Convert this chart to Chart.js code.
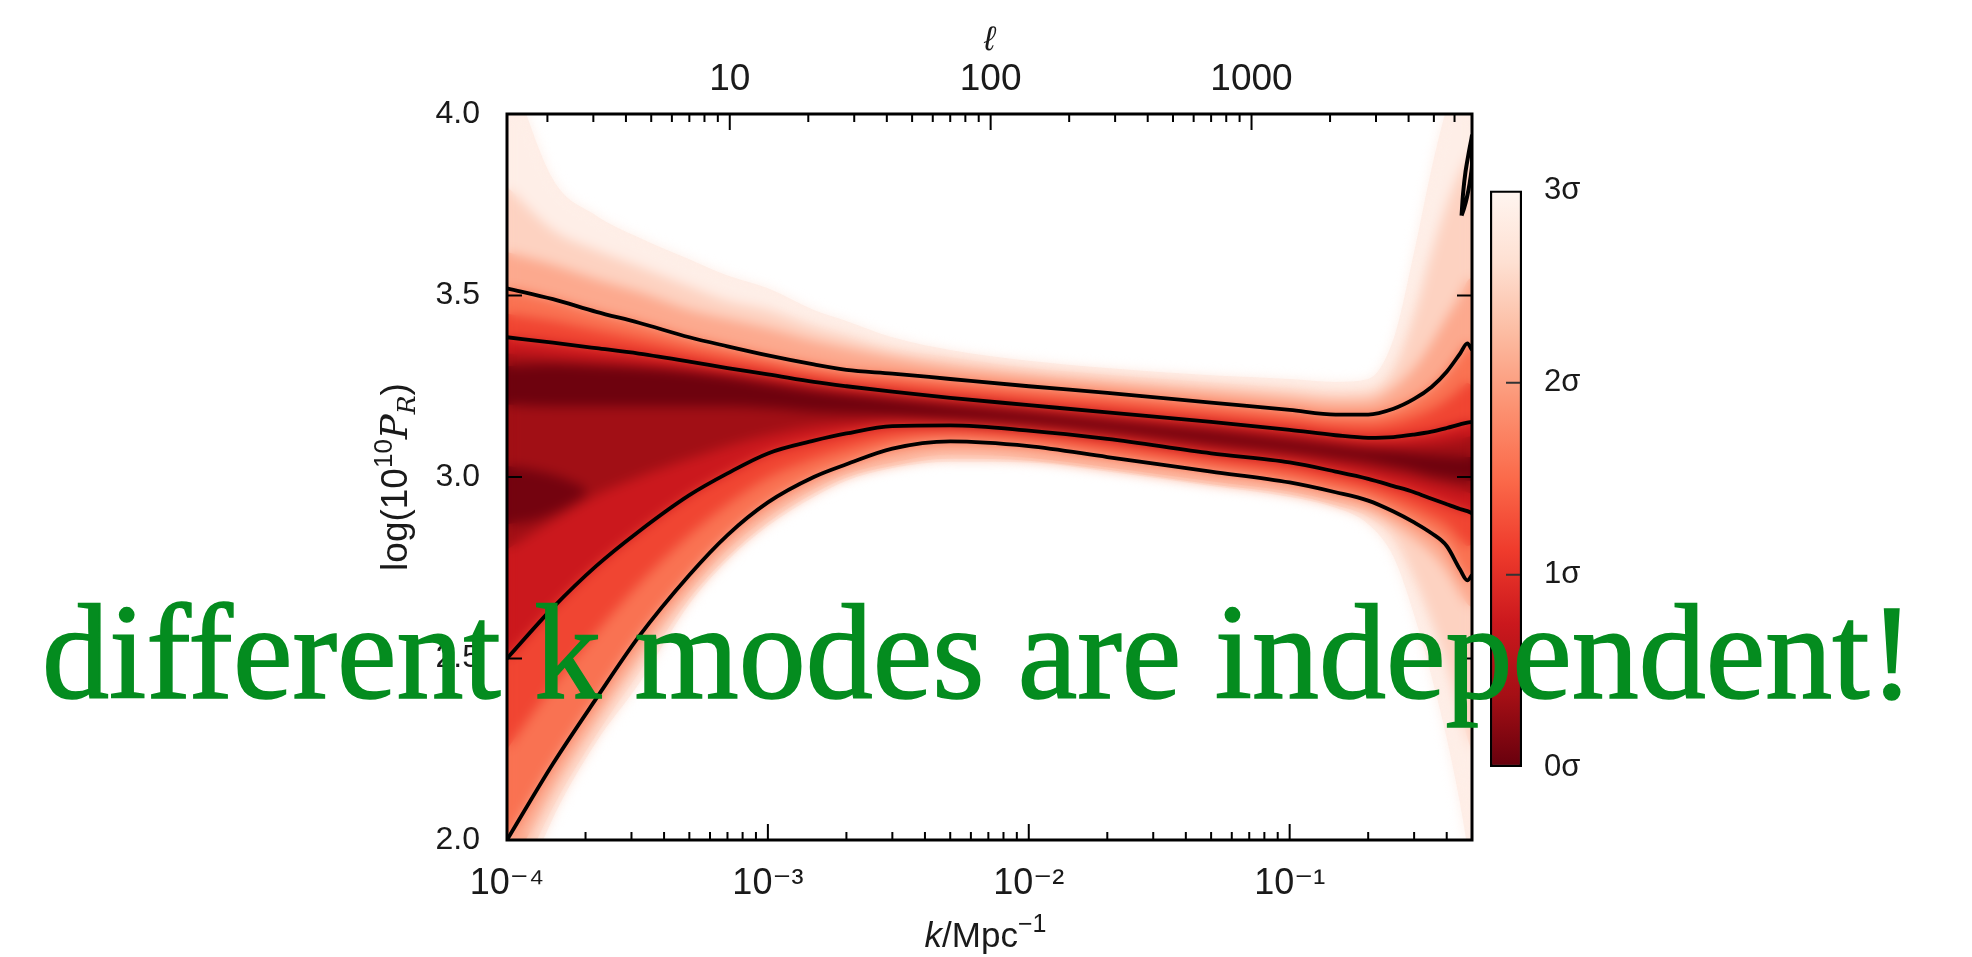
<!DOCTYPE html>
<html>
<head>
<meta charset="utf-8">
<script src="https://cdn.jsdelivr.net/npm/chart.js@4.4.1/dist/chart.umd.min.js"></script>
<style>
  html, body { margin: 0; padding: 0; background: #fff; }
  #wrap { position: relative; width: 1972px; height: 957px; overflow: hidden; }
  #grafico { position: absolute; left: 0; top: 0; }
  #barraCor { position: absolute; left: 1460px; top: 150px; }
  #frase { position: absolute; left: 42px; top: 580px; font-size: 136px; font-family: "Liberation Serif", "DejaVu Serif", serif;
           color: #048c1f; -webkit-text-stroke: 1.6px #048c1f; white-space: nowrap; line-height: 1; transform-origin: 0 0; }
</style>
</head>
<body>
<div id="wrap">
  <canvas id="grafico" width="1972" height="957"></canvas>
  <canvas id="barraCor" width="200" height="660"></canvas>
  <div id="frase">different k modes are independent!</div>
</div>
<script>
// ======== DADOS ========
const kValues  = [1e-4, 1.5e-4, 2.2e-4, 3.2e-4, 5e-4, 7e-4, 1e-3, 1.5e-3, 2e-3, 3e-3, 5e-3, 1e-2, 2e-2, 5e-2, 0.1, 0.15, 0.2, 0.25, 0.3, 0.35, 0.4, 0.45, 0.48, 0.5];

// bordas do sombreado (nivel em sigma)
const upper3   = [4.15, 3.82, 3.72, 3.66, 3.60, 3.555, 3.52, 3.46, 3.43, 3.385, 3.35, 3.32, 3.30, 3.28, 3.27, 3.262, 3.27, 3.38, 3.62, 3.85, 4.02, 4.15, 4.22, 4.28];
const upper26  = [3.80, 3.68, 3.625, 3.58, 3.525, 3.485, 3.46, 3.415, 3.39, 3.355, 3.33, 3.30, 3.282, 3.26, 3.245, 3.235, 3.24, 3.30, 3.45, 3.62, 3.75, 3.84, 3.88, 3.90];
const upper23  = [3.62, 3.585, 3.545, 3.51, 3.46, 3.435, 3.41, 3.375, 3.355, 3.33, 3.305, 3.283, 3.263, 3.238, 3.22, 3.208, 3.21, 3.245, 3.30, 3.37, 3.44, 3.50, 3.54, 3.55];
const upper2   = [3.52, 3.49, 3.455, 3.425, 3.385, 3.36, 3.335, 3.31, 3.295, 3.285, 3.27, 3.25, 3.232, 3.205, 3.185, 3.172, 3.172, 3.188, 3.215, 3.248, 3.29, 3.34, 3.368, 3.35];
const upper15  = [3.45, 3.43, 3.405, 3.38, 3.35, 3.33, 3.31, 3.285, 3.272, 3.26, 3.244, 3.224, 3.205, 3.178, 3.158, 3.143, 3.14, 3.149, 3.166, 3.186, 3.212, 3.242, 3.259, 3.251];
const upper1   = [3.385, 3.37, 3.355, 3.34, 3.318, 3.30, 3.283, 3.262, 3.25, 3.235, 3.218, 3.198, 3.178, 3.152, 3.13, 3.115, 3.108, 3.11, 3.117, 3.125, 3.135, 3.145, 3.15, 3.152];
const upper05  = [3.34, 3.33, 3.32, 3.31, 3.295, 3.28, 3.265, 3.245, 3.234, 3.22, 3.205, 3.185, 3.163, 3.137, 3.113, 3.097, 3.088, 3.086, 3.088, 3.092, 3.098, 3.105, 3.11, 3.112];
const coreUpper = [3.305, 3.31, 3.305, 3.30, 3.29, 3.278, 3.258, 3.238, 3.228, 3.215, 3.198, 3.178, 3.155, 3.125, 3.10, 3.085, 3.075, 3.07, 3.064, 3.06, 3.057, 3.055, 3.055, 3.055];
const coreLower = [3.20, 3.195, 3.195, 3.195, 3.195, 3.195, 3.19, 3.18, 3.176, 3.17, 3.162, 3.148, 3.128, 3.096, 3.072, 3.056, 3.044, 3.03, 3.018, 3.005, 2.998, 2.992, 2.99, 2.99];
const lower05  = [2.80, 2.88, 2.95, 3.0, 3.05, 3.085, 3.115, 3.14, 3.148, 3.158, 3.152, 3.138, 3.115, 3.078, 3.055, 3.037, 3.022, 3.008, 2.996, 2.983, 2.973, 2.963, 2.958, 2.953];
const lower1   = [2.50, 2.64, 2.755, 2.85, 2.95, 3.01, 3.065, 3.10, 3.12, 3.14, 3.142, 3.128, 3.105, 3.065, 3.04, 3.015, 2.995, 2.975, 2.958, 2.94, 2.925, 2.912, 2.906, 2.90];
const lower15  = [2.25, 2.425, 2.572, 2.705, 2.84, 2.925, 2.998, 3.05, 3.078, 3.109, 3.12, 3.106, 3.08, 3.04, 3.012, 2.986, 2.965, 2.94, 2.916, 2.892, 2.868, 2.828, 2.81, 2.815];
const lower2   = [2.00, 2.21, 2.39, 2.56, 2.73, 2.84, 2.93, 3.00, 3.035, 3.078, 3.098, 3.085, 3.055, 3.015, 2.985, 2.958, 2.935, 2.905, 2.875, 2.845, 2.81, 2.745, 2.715, 2.73];
const lower23  = [1.90, 2.14, 2.33, 2.50, 2.685, 2.80, 2.89, 2.967, 3.008, 3.04, 3.062, 3.053, 3.027, 2.988, 2.96, 2.932, 2.905, 2.87, 2.83, 2.79, 2.74, 2.68, 2.65, 2.64];
const lower26  = [1.82, 2.09, 2.29, 2.46, 2.665, 2.78, 2.875, 2.955, 2.998, 3.03, 3.05, 3.045, 3.02, 2.98, 2.952, 2.922, 2.89, 2.83, 2.72, 2.60, 2.48, 2.35, 2.28, 2.24];
const lower3   = [1.75, 2.06, 2.27, 2.43, 2.65, 2.77, 2.865, 2.945, 2.99, 3.025, 3.042, 3.04, 3.015, 2.975, 2.945, 2.915, 2.87, 2.78, 2.62, 2.45, 2.28, 2.10, 1.98, 1.90];

// mancha escura de baixo, na borda esquerda
const lobeK     = [1e-4, 1.25e-4, 1.6e-4, 2e-4];
const lobeUpper = [3.03, 3.02, 3.0, 2.97];
const lobeLower = [2.87, 2.88, 2.91, 2.95];

// pequeno contorno fechado no canto superior direito
const loopK = [0.456, 0.462, 0.472, 0.485, 0.497, 0.5, 0.5, 0.49, 0.478, 0.466, 0.456];
const loopY = [3.72, 3.78, 3.84, 3.89, 3.93, 3.94, 3.86, 3.81, 3.77, 3.74, 3.72];

// eixos
const kMin = 1e-4, kMax = 0.5;
const ellPerK = 14000;
const kTickValues = [1e-4, 1e-3, 1e-2, 1e-1];
const kTickLabels = ['10⁻⁴', '10⁻³', '10⁻²', '10⁻¹'];
const ellTickValues = [10, 100, 1000];
const ellTickLabels = ['10', '100', '1000'];
const yTickValues = [2.0, 2.5, 3.0, 3.5, 4.0];
const yTickLabels = ['2.0', '2.5', '3.0', '3.5', '4.0'];
const sigmaTickValues = [0, 1, 2, 3];
const sigmaTickLabels = ['0σ', '1σ', '2σ', '3σ'];

// mapa de cor "Reds" invertido (0σ escuro -> 3σ branco)
const redsStops = ['#67000d', '#a50f15', '#cb181d', '#ef3b2c', '#fb6a4a', '#fc9272', '#fcbba1', '#fee0d2', '#fff5f0'];

const FONTE = '"Liberation Sans", "DejaVu Sans", sans-serif';

// ======== AUXILIARES ========
function pontos(xs, ys) {
    return xs.map((x, i) => ({ x: x, y: ys[i] }));
}

function linha(ys, xs) {
    return {
        data: pontos(xs || kValues, ys),
        borderColor: '#000', borderWidth: 3.8, pointRadius: 0, fill: false,
        cubicInterpolationMode: 'monotone'
    };
}

function faixa(cima, baixo, cor, xs) {
    return [
        { data: pontos(xs || kValues, cima), borderWidth: 0, pointRadius: 0, fill: '+1', backgroundColor: cor, cubicInterpolationMode: 'monotone' },
        { data: pontos(xs || kValues, baixo), borderWidth: 0, pointRadius: 0, fill: false, cubicInterpolationMode: 'monotone' }
    ];
}

function ticksLog(min, max) {
    const out = [];
    for (let e = Math.floor(Math.log10(min)); e <= Math.ceil(Math.log10(max)); e++) {
        for (let m = 1; m <= 9; m++) {
            const v = m * Math.pow(10, e);
            if (v >= min * 0.999 && v <= max * 1.001) out.push(v);
        }
    }
    return out;
}

function ehDecada(v) {
    const l = Math.log10(v);
    return Math.abs(l - Math.round(l)) < 1e-6;
}

function rotulo(valores, rotulos, v, log) {
    const i = valores.findIndex(t => log ? Math.abs(Math.log10(t) - Math.log10(v)) < 1e-6 : Math.abs(t - v) < 1e-9);
    return i >= 0 ? rotulos[i] : '';
}

function textoRico(ctx, partes, x, y) {
    let total = 0;
    partes.forEach(p => { ctx.font = p.font; p.w = ctx.measureText(p.t).width; total += p.w; });
    let cx = x - total / 2;
    ctx.textBaseline = 'alphabetic';
    ctx.textAlign = 'left';
    partes.forEach(p => { ctx.font = p.font; ctx.fillText(p.t, cx, y + (p.dy || 0)); cx += p.w; });
}

// ======== PLUGINS ========
// desfoca o sombreado (desenhado pelo filler) para parecer um mapa continuo
const suavizar = {
    id: 'suavizar',
    beforeDatasetsDraw(chart) {
        const { ctx, canvas, chartArea: a } = chart;
        const x0 = Math.round(a.left), y0 = Math.round(a.top);
        const w = Math.round(a.right) - x0, h = Math.round(a.bottom) - y0;
        const copia = document.createElement('canvas');
        copia.width = w; copia.height = h;
        copia.getContext('2d').drawImage(canvas, x0, y0, w, h, 0, 0, w, h);
        ctx.save();
        ctx.beginPath(); ctx.rect(x0, y0, w, h); ctx.clip();
        ctx.filter = 'blur(6px)';
        ctx.drawImage(copia, x0, y0);
        ctx.restore();
    }
};

// moldura preta e ticks para dentro (estilo matplotlib)
const moldura = {
    id: 'moldura',
    afterDatasetsDraw(chart) {
        const { ctx, chartArea: a, scales } = chart;
        ctx.save();
        ctx.strokeStyle = '#000';
        ctx.lineWidth = 2;
        ctx.beginPath();
        scales.x.ticks.forEach(t => {
            const px = scales.x.getPixelForValue(t.value);
            ctx.moveTo(px, a.bottom); ctx.lineTo(px, a.bottom - (ehDecada(t.value) ? 16 : 8));
        });
        scales.x2.ticks.forEach(t => {
            const px = scales.x2.getPixelForValue(t.value);
            ctx.moveTo(px, a.top); ctx.lineTo(px, a.top + (ehDecada(t.value) ? 16 : 8));
        });
        scales.y.ticks.forEach(t => {
            const py = scales.y.getPixelForValue(t.value);
            ctx.moveTo(a.left, py); ctx.lineTo(a.left + 15, py);
            ctx.moveTo(a.right, py); ctx.lineTo(a.right - 15, py);
        });
        ctx.stroke();
        ctx.lineWidth = 3;
        ctx.strokeRect(a.left, a.top, a.right - a.left, a.bottom - a.top);
        ctx.restore();
    }
};

// titulos dos eixos com italico / sobrescrito
const titulos = {
    id: 'titulos',
    afterDraw(chart) {
        const { ctx, chartArea: a } = chart;
        const meio = (a.left + a.right) / 2;
        ctx.save();
        ctx.fillStyle = '#1a1a1a';
        textoRico(ctx, [
            { t: 'k', font: 'italic 35px ' + FONTE },
            { t: '/Mpc', font: '35px ' + FONTE },
            { t: '−1', font: '25px ' + FONTE, dy: -15 }
        ], meio - 4, 947);
        textoRico(ctx, [{ t: 'ℓ', font: 'italic 34px ' + FONTE }], meio, 50);
        ctx.translate(407, (a.top + a.bottom) / 2);
        ctx.rotate(-Math.PI / 2);
        textoRico(ctx, [
            { t: 'log(10', font: '37px ' + FONTE },
            { t: '10', font: '26px ' + FONTE, dy: -15 },
            { t: 'P', font: 'italic 37px "DejaVu Serif", serif' },
            { t: 'R', font: 'italic 25px "DejaVu Serif", serif', dy: 8 },
            { t: ')', font: '37px ' + FONTE }
        ], 0, 0);
        ctx.restore();
    }
};

// ======== GRAFICO PRINCIPAL ========
const datasets = [
    linha(upper2), linha(upper1), linha(lower1), linha(lower2),
    Object.assign(linha(loopY, loopK), { cubicInterpolationMode: 'default', tension: 0.3, borderWidth: 4 }),
    ...faixa(lobeUpper, lobeLower, '#74030f', lobeK),
    ...faixa(coreUpper, coreLower, '#6e020e'),
    ...faixa(upper05, lower05, '#a10f15'),
    ...faixa(upper1, lower1, '#cb181d'),
    ...faixa(upper15, lower15, '#f04532'),
    ...faixa(upper2, lower2, '#f97252'),
    ...faixa(upper23, lower23, '#fca98e'),
    ...faixa(upper26, lower26, '#fdd2c1'),
    ...faixa(upper3, lower3, '#feeee7')
];

const fonteTick = { family: FONTE, size: 36 };

const grafico = new Chart(document.getElementById('grafico'), {
    type: 'line',
    data: { datasets: datasets },
    options: {
        responsive: false,
        animation: false,
        devicePixelRatio: 1,
        events: [],
        layout: { padding: { left: 0, top: 0, right: 500, bottom: 0 } },
        plugins: {
            legend: { display: false },
            tooltip: { enabled: false },
            filler: { drawTime: 'beforeDatasetsDraw' }
        },
        scales: {
            x: {
                type: 'logarithmic', position: 'bottom', min: kMin, max: kMax,
                afterBuildTicks: s => { s.ticks = ticksLog(kMin, kMax).map(v => ({ value: v })); },
                afterFit: s => { s.height = 117; },
                grid: { display: false, drawTicks: false },
                border: { display: false },
                ticks: { autoSkip: false, maxRotation: 0, minRotation: 0, padding: 22, color: '#1a1a1a', font: fonteTick,
                         callback: v => rotulo(kTickValues, kTickLabels, v, true) }
            },
            x2: {
                type: 'logarithmic', position: 'top', axis: 'x', min: kMin * ellPerK, max: kMax * ellPerK,
                afterBuildTicks: s => { s.ticks = ticksLog(kMin * ellPerK, kMax * ellPerK).map(v => ({ value: v })); },
                afterFit: s => { s.height = 114; },
                grid: { display: false, drawTicks: false },
                border: { display: false },
                ticks: { autoSkip: false, maxRotation: 0, minRotation: 0, padding: 12, color: '#1a1a1a', font: { family: FONTE, size: 37 },
                         callback: v => rotulo(ellTickValues, ellTickLabels, v, true) }
            },
            y: {
                type: 'linear', position: 'left', min: 2, max: 4,
                afterBuildTicks: s => { s.ticks = yTickValues.map(v => ({ value: v })); },
                afterFit: s => { s.width = 507; },
                grid: { display: false, drawTicks: false },
                border: { display: false },
                ticks: { padding: 27, color: '#1a1a1a', font: { family: FONTE, size: 32 },
                         callback: v => rotulo(yTickValues, yTickLabels, v, false) }
            }
        }
    },
    plugins: [suavizar, moldura, titulos]
});

// ======== BARRA DE COR ========
function gradienteReds(chart) {
    const a = chart.chartArea;
    if (!a) return redsStops[4];
    const g = chart.ctx.createLinearGradient(0, a.bottom, 0, a.top);
    redsStops.forEach((c, i) => g.addColorStop(i / (redsStops.length - 1), c));
    return g;
}

const ticksBarra = {
    id: 'ticksBarra',
    afterDatasetsDraw(chart) {
        const { ctx, chartArea: a, scales } = chart;
        ctx.save();
        ctx.strokeStyle = '#333';
        ctx.lineWidth = 2;
        ctx.beginPath();
        [1, 2].forEach(v => {
            const py = scales.y.getPixelForValue(v);
            ctx.moveTo(a.right - 2, py); ctx.lineTo(a.right - 16, py);
        });
        ctx.stroke();
        ctx.restore();
    }
};

new Chart(document.getElementById('barraCor'), {
    type: 'bar',
    data: {
        labels: [''],
        datasets: [{
            data: [3],
            backgroundColor: c => gradienteReds(c.chart),
            borderColor: '#000', borderWidth: 2.5, borderSkipped: false,
            barPercentage: 1, categoryPercentage: 1
        }]
    },
    options: {
        responsive: false,
        animation: false,
        devicePixelRatio: 1,
        events: [],
        layout: { padding: { left: 30, top: 35, bottom: 43, right: 0 } },
        plugins: { legend: { display: false }, tooltip: { enabled: false } },
        scales: {
            x: { display: false },
            y: {
                position: 'right', min: 0, max: 3,
                afterBuildTicks: s => { s.ticks = sigmaTickValues.map(v => ({ value: v })); },
                afterFit: s => { s.width = 138; },
                grid: { display: false, drawTicks: false },
                border: { display: false },
                ticks: { padding: 22, color: '#1a1a1a', font: { family: FONTE, size: 31 },
                         callback: v => rotulo(sigmaTickValues, sigmaTickLabels, v, false) }
            }
        }
    },
    plugins: [ticksBarra]
});

// ======== FRASE VERDE ========
const frase = document.getElementById('frase');
const medida = document.createElement('canvas').getContext('2d');
medida.font = '136px "Liberation Serif", "DejaVu Serif", serif';
const m = medida.measureText('d');
const baseFrase = (136 - (m.fontBoundingBoxAscent + m.fontBoundingBoxDescent)) / 2 + m.fontBoundingBoxAscent;
frase.style.top = (698 - baseFrase) + 'px';
frase.style.transform = 'scaleX(' + (1872 / frase.getBoundingClientRect().width) + ')';
</script>
</body>
</html>
